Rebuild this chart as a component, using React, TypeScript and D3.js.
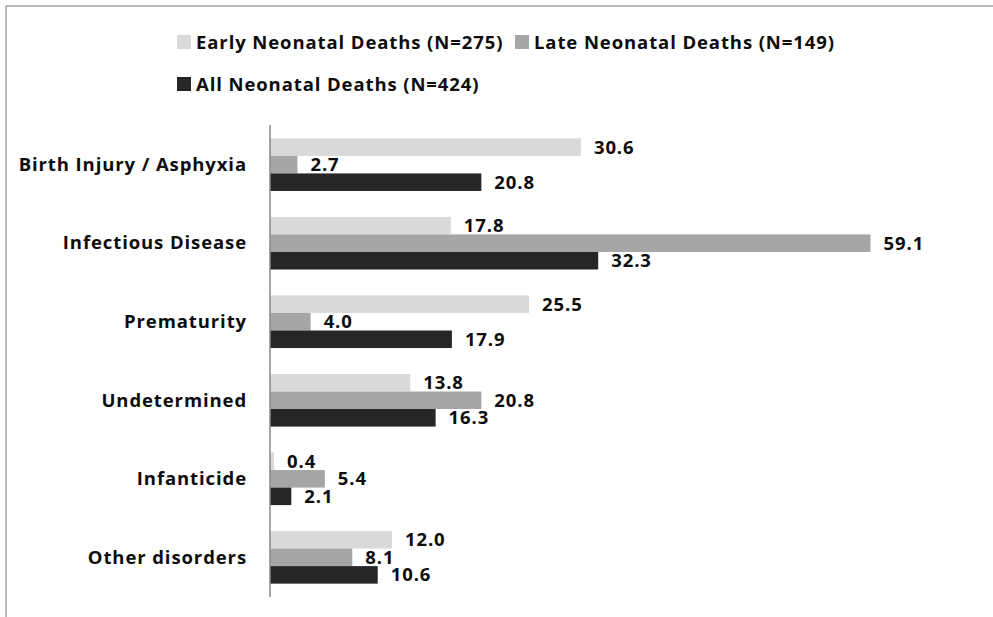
import React from "react";
import * as d3 from "d3";

const categories = [
  "Birth Injury / Asphyxia",
  "Infectious Disease",
  "Prematurity",
  "Undetermined",
  "Infanticide",
  "Other disorders",
];
const seriesNames = [
  "Early Neonatal Deaths (N=275)",
  "Late Neonatal Deaths (N=149)",
  "All Neonatal Deaths (N=424)",
];
const earlyValues = [30.6, 17.8, 25.5, 13.8, 0.4, 12.0];
const lateValues = [2.7, 59.1, 4.0, 20.8, 5.4, 8.1];
const allValues = [20.8, 32.3, 17.9, 16.3, 2.1, 10.6];
const seriesValues = [earlyValues, lateValues, allValues];
const seriesColors = ["#d9d9d9", "#a6a6a6", "#262626"];

const W = 993;
const H = 617;
const FONT = "'Open Sans', 'Noto Sans', sans-serif";
const FS = 18.5;
const LS = 0.9;

export default function App() {
  const axisX = 270;
  const x = d3.scaleLinear().domain([0, 59.1]).range([axisX, 870.5]);
  const y = d3
    .scaleBand<string>()
    .domain(categories)
    .range([125, 597])
    .paddingInner(0.33)
    .paddingOuter(0.17);
  const inner = d3
    .scaleBand<number>()
    .domain([0, 1, 2])
    .range([0, y.bandwidth()])
    .padding(0);

  const legendItems = [
    { i: 0, x: 177, y: 42 },
    { i: 1, x: 515, y: 42 },
    { i: 2, x: 177, y: 84 },
  ];

  const textProps = {
    fontSize: FS,
    fontWeight: 700,
    fill: "#0d0d0d",
    letterSpacing: LS,
  } as const;

  return (
    <svg
      width={W}
      height={H}
      style={{ position: "absolute", left: 0, top: 0, background: "#fff" }}
      fontFamily={FONT}
    >
      <rect x={0} y={0} width={W} height={H} fill="#fff" />
      {/* frame */}
      <line x1={6} x2={W} y1={6} y2={6} stroke="#a0a0a0" strokeWidth={1.5} />
      <line x1={6} x2={6} y1={6} y2={H} stroke="#a0a0a0" strokeWidth={1.5} />

      {/* legend */}
      {legendItems.map((it) => (
        <g key={it.i}>
          <rect
            x={it.x}
            y={it.y - 7}
            width={14}
            height={14}
            fill={seriesColors[it.i]}
          />
          <text x={it.x + 19} y={it.y + 6.8} {...textProps}>
            {seriesNames[it.i]}
          </text>
        </g>
      ))}

      {/* bars */}
      {categories.map((c, ci) => (
        <g key={c} transform={`translate(0,${y(c)})`}>
          {seriesValues.map((vals, si) => {
            const v = vals[ci];
            const by = inner(si)!;
            const bh = inner.bandwidth();
            return (
              <g key={si}>
                <rect
                  x={x(0)}
                  y={by}
                  width={x(v) - x(0)}
                  height={bh}
                  fill={seriesColors[si]}
                />
                <text x={x(v) + 13} y={by + bh / 2 + 6.6} {...textProps}>
                  {v.toFixed(1)}
                </text>
              </g>
            );
          })}
          <text
            x={247}
            y={y.bandwidth() / 2 + 6.3}
            textAnchor="end"
            {...textProps}
          >
            {c}
          </text>
        </g>
      ))}

      {/* axis line */}
      <line
        x1={axisX}
        x2={axisX}
        y1={125}
        y2={597}
        stroke="#888"
        strokeWidth={1.5}
      />
    </svg>
  );
}
